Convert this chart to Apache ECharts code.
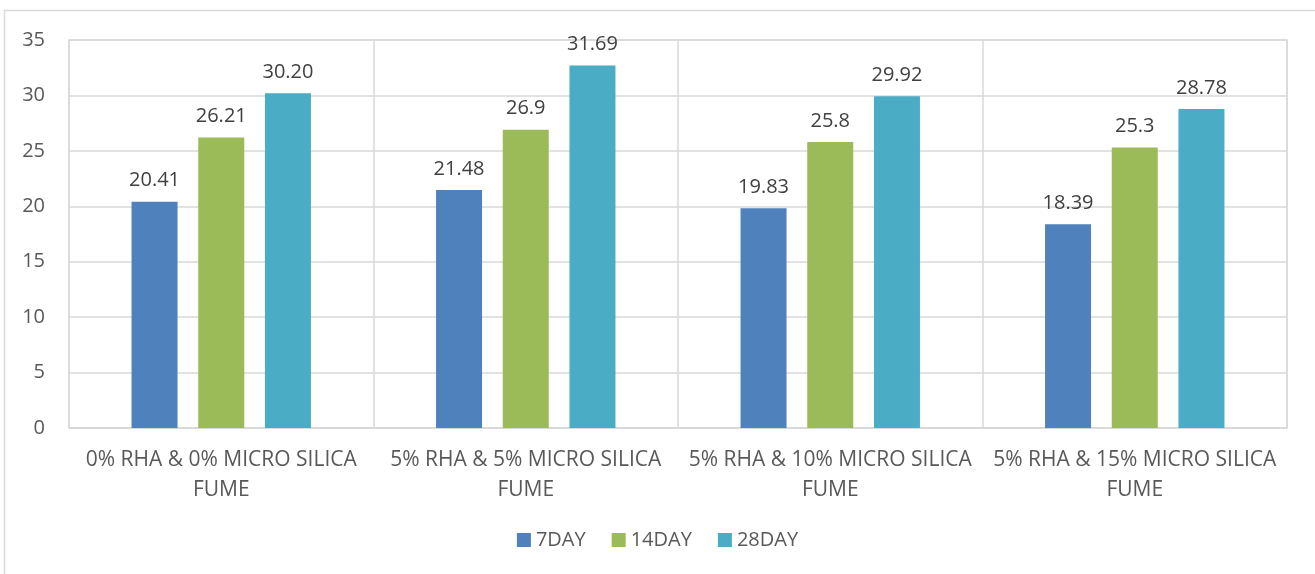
<!DOCTYPE html>
<html lang="en">
<head>
    <meta charset="UTF-8">
    <title>Strength by mix</title>
    <script type="text/javascript" src="https://cdn.jsdelivr.net/npm/echarts@6/dist/echarts.min.js"></script>
    <style>
        body { margin: 0; background: #fff; }
        #bar { width: 1315px; height: 574px; }
    </style>
</head>
<body>
<div id="bar"></div>
<script>
    // categories and series
    var mixes = ['0% RHA & 0% MICRO SILICA\nFUME', '5% RHA & 5% MICRO SILICA\nFUME',
        '5% RHA & 10% MICRO SILICA\nFUME', '5% RHA & 15% MICRO SILICA\nFUME'];
    var day7 = [20.41, 21.48, 19.83, 18.39];
    var day14 = [26.21, 26.9, 25.8, 25.3];
    var day28 = [30.20, 32.7, 29.92, 28.78];
    // printed labels as in the source
    var day7Labels = ['20.41', '21.48', '19.83', '18.39'];
    var day14Labels = ['26.21', '26.9', '25.8', '25.3'];
    var day28Labels = ['30.20', '31.69', '29.92', '28.78'];
    var yTicks = [0, 5, 10, 15, 20, 25, 30, 35];

    var font = 'Open Sans';
    var textColor = '#595959';
    var lineColor = '#d9d9d9';

    function makeSeries(name, values, labels, color) {
        return {
            name: name,
            type: 'bar',
            barWidth: 46,
            barGap: '45%',
            data: values,
            itemStyle: { color: color },
            label: {
                show: true,
                position: 'top',
                distance: 11,
                fontFamily: font,
                fontSize: 20,
                color: '#404040',
                formatter: function (p) { return labels[p.dataIndex]; }
            }
        };
    }

    var option = {
        animation: false,
        textStyle: { fontFamily: font },
        graphic: [{
            type: 'rect',
            shape: { x: 4.5, y: 10.5, width: 1400, height: 700 },
            style: { fill: null, stroke: lineColor, lineWidth: 1.5 },
            silent: true
        }],
        grid: {
            left: 69, right: 28, top: 40, bottom: 146,
            show: true, borderColor: lineColor, borderWidth: 1.5
        },
        legend: {
            bottom: 19,
            left: 'center',
            itemWidth: 14,
            itemHeight: 14,
            itemGap: 26,
            icon: 'rect',
            textStyle: { fontFamily: font, fontSize: 20, color: textColor },
            data: ['7DAY', '14DAY', '28DAY']
        },
        xAxis: {
            type: 'category',
            data: mixes,
            axisTick: { show: false },
            axisLine: { lineStyle: { color: lineColor, width: 1.5 } },
            splitLine: { show: true, lineStyle: { color: lineColor, width: 1.5 } },
            axisLabel: {
                interval: 0,
                margin: 17,
                fontFamily: font,
                fontSize: 21,
                lineHeight: 30,
                color: textColor,
                align: 'center'
            }
        },
        yAxis: {
            type: 'value',
            min: yTicks[0],
            max: yTicks[yTicks.length - 1],
            interval: 5,
            axisLine: { show: false },
            axisTick: { show: false },
            splitLine: { lineStyle: { color: lineColor, width: 1.5 } },
            axisLabel: { margin: 24, fontFamily: font, fontSize: 20, color: textColor }
        },
        series: [
            makeSeries('7DAY', day7, day7Labels, '#4f81bd'),
            makeSeries('14DAY', day14, day14Labels, '#9bbb59'),
            makeSeries('28DAY', day28, day28Labels, '#4bacc6')
        ]
    };

    var myChart = echarts.init(document.getElementById('bar'));
    myChart.setOption(option);
</script>
</body>
</html>
